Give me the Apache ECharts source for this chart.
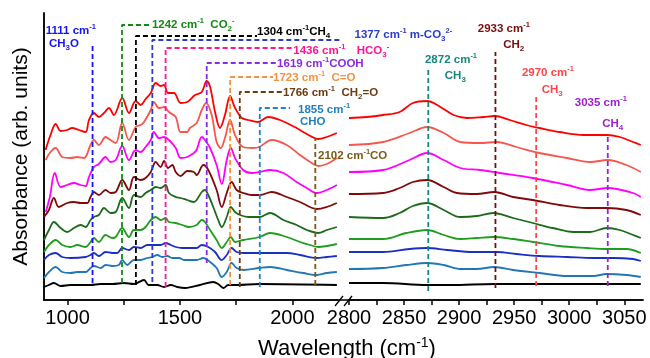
<!DOCTYPE html>
<html><head><meta charset="utf-8">
<script src="https://cdn.jsdelivr.net/npm/echarts@6/dist/echarts.min.js"></script>
<style>html,body{margin:0;padding:0;background:#fff}#c{width:650px;height:358px}</style>
</head><body><div id="c"></div>
<script>
// ---------- axis ranges / ticks ----------
const xMinL = 895, xMaxL = 2203, xMinR = 2800, xMaxR = 3067;
const yMin = 0, yMax = 2.87;
const tickLabelsL = [1000, 1500, 2000];
const tickMarksL = [1000, 1250, 1500, 1750, 2000];
const tickLabelsR = [2800, 2850, 2900, 2950, 3000, 3050];
const tickMarksR = [2800, 2825, 2850, 2875, 2900, 2925, 2950, 2975, 3000, 3025, 3050];

// ---------- spectra: [wavenumber, absorbance] ----------
const redLeft = [[902,1.50],[924,1.65],[947,1.76],[969,1.69],[998,1.70],[1020,1.72],[1050,1.70],[1080,1.68],[1095,1.80],[1117,1.87],[1139,1.83],[1162,1.87],[1184,1.92],[1206,1.85],[1243,2.02],[1273,1.87],[1303,1.99],[1325,1.95],[1347,2.01],[1370,2.07],[1392,2.17],[1414,2.14],[1429,2.15],[1447,2.07],[1473,2.07],[1503,1.97],[1532,1.98],[1567,2.05],[1597,2.08],[1619,2.19],[1634,2.13],[1656,1.88],[1678,1.72],[1700,1.85],[1723,2.04],[1745,1.92],[1775,1.82],[1804,1.80],[1847,1.78],[1892,1.83],[1945,1.80],[2019,1.72],[2064,1.66],[2116,1.61],[2153,1.63],[2198,1.67]];
const salmonLeft = [[902,1.40],[924,1.48],[947,1.52],[976,1.43],[1013,1.42],[1043,1.43],[1073,1.42],[1102,1.55],[1117,1.60],[1139,1.55],[1169,1.63],[1191,1.60],[1214,1.57],[1243,1.77],[1273,1.60],[1303,1.73],[1325,1.75],[1340,1.78],[1370,1.90],[1384,1.98],[1406,1.92],[1429,1.93],[1451,1.88],[1481,1.83],[1503,1.68],[1532,1.68],[1544,1.72],[1574,1.77],[1597,1.90],[1616,1.97],[1641,1.85],[1663,1.58],[1681,1.52],[1700,1.62],[1723,1.80],[1745,1.65],[1781,1.53],[1825,1.52],[1853,1.53],[1908,1.60],[1975,1.55],[2034,1.45],[2079,1.38],[2116,1.34],[2153,1.36],[2198,1.42]];
const magentaLeft = [[903,0.88],[921,1.03],[943,1.27],[969,1.13],[998,1.15],[1028,1.17],[1058,1.15],[1080,1.14],[1095,1.23],[1117,1.33],[1139,1.36],[1169,1.43],[1191,1.38],[1214,1.40],[1243,1.54],[1273,1.40],[1303,1.50],[1325,1.48],[1347,1.53],[1370,1.60],[1384,1.68],[1406,1.62],[1429,1.63],[1451,1.60],[1481,1.52],[1503,1.42],[1532,1.43],[1562,1.47],[1574,1.50],[1597,1.63],[1611,1.60],[1634,1.52],[1663,1.35],[1686,1.16],[1708,1.40],[1726,1.52],[1745,1.42],[1781,1.30],[1819,1.27],[1853,1.28],[1901,1.30],[1960,1.27],[2019,1.18],[2064,1.12],[2109,1.07],[2153,1.10],[2198,1.15]];
const darkRedLeft = [[895,0.83],[917,0.90],[939,1.02],[961,0.93],[998,0.97],[1028,0.98],[1058,0.97],[1087,0.97],[1102,1.03],[1117,1.08],[1139,1.05],[1169,1.10],[1191,1.07],[1214,1.08],[1243,1.20],[1273,1.10],[1295,1.23],[1325,1.20],[1347,1.22],[1370,1.28],[1392,1.38],[1414,1.33],[1429,1.39],[1447,1.32],[1466,1.35],[1481,1.28],[1503,1.24],[1532,1.29],[1562,1.28],[1574,1.25],[1604,1.35],[1626,1.30],[1663,1.10],[1686,0.93],[1708,1.07],[1730,1.18],[1752,1.10],[1782,1.07],[1819,1.05],[1856,1.05],[1908,1.08],[1975,1.03],[2034,0.98],[2109,0.91],[2153,0.93],[2198,0.97]];
const darkGreenLeft = [[895,0.60],[917,0.70],[939,0.78],[969,0.72],[998,0.68],[1028,0.72],[1058,0.75],[1080,0.73],[1102,0.80],[1117,0.83],[1139,0.85],[1162,0.92],[1191,0.87],[1214,0.88],[1243,1.02],[1273,0.92],[1295,1.05],[1325,1.03],[1347,1.07],[1370,1.10],[1392,1.13],[1414,1.12],[1436,1.15],[1451,1.07],[1481,1.03],[1503,1.02],[1532,1.00],[1562,0.98],[1574,1.00],[1597,1.08],[1611,1.10],[1626,1.05],[1648,0.93],[1670,0.80],[1686,0.73],[1708,0.83],[1726,0.93],[1745,0.88],[1767,0.85],[1804,0.83],[1853,0.83],[1901,0.87],[1960,0.80],[2019,0.75],[2064,0.70],[2116,0.67],[2153,0.70],[2198,0.73]];
const greenLeft = [[895,0.48],[917,0.55],[947,0.60],[976,0.55],[1013,0.53],[1043,0.55],[1080,0.53],[1102,0.58],[1117,0.62],[1139,0.58],[1169,0.65],[1199,0.62],[1214,0.63],[1243,0.72],[1273,0.63],[1295,0.70],[1325,0.70],[1347,0.73],[1370,0.80],[1392,0.83],[1414,0.80],[1436,0.82],[1451,0.78],[1481,0.77],[1510,0.75],[1540,0.73],[1574,0.75],[1597,0.80],[1611,0.78],[1634,0.70],[1663,0.60],[1686,0.52],[1708,0.58],[1726,0.63],[1745,0.58],[1782,0.60],[1853,0.63],[1901,0.67],[1975,0.63],[2034,0.58],[2079,0.55],[2116,0.53],[2153,0.54],[2198,0.56]];
const blueLeft = [[895,0.40],[917,0.45],[947,0.47],[976,0.43],[1013,0.42],[1080,0.43],[1102,0.45],[1117,0.47],[1139,0.44],[1169,0.48],[1199,0.47],[1221,0.47],[1243,0.52],[1273,0.50],[1295,0.53],[1325,0.52],[1354,0.55],[1384,0.55],[1414,0.55],[1436,0.57],[1459,0.55],[1481,0.53],[1510,0.52],[1540,0.52],[1574,0.52],[1597,0.55],[1626,0.53],[1656,0.48],[1686,0.40],[1708,0.45],[1730,0.52],[1752,0.48],[1782,0.47],[1853,0.47],[1901,0.47],[1975,0.47],[2034,0.45],[2109,0.42],[2153,0.43],[2198,0.44]];
const steelLeft = [[895,0.22],[917,0.28],[947,0.33],[976,0.28],[1013,0.27],[1043,0.28],[1080,0.28],[1102,0.32],[1117,0.34],[1147,0.32],[1169,0.35],[1199,0.34],[1228,0.35],[1243,0.40],[1265,0.35],[1295,0.40],[1325,0.40],[1354,0.42],[1377,0.43],[1399,0.45],[1421,0.43],[1443,0.44],[1466,0.42],[1496,0.42],[1518,0.40],[1548,0.40],[1574,0.40],[1604,0.42],[1634,0.38],[1663,0.32],[1686,0.23],[1708,0.28],[1730,0.37],[1752,0.32],[1782,0.30],[1853,0.32],[1901,0.33],[1975,0.30],[2049,0.27],[2109,0.25],[2153,0.27],[2198,0.28]];
const blackLeft = [[895,0.13],[917,0.15],[939,0.17],[969,0.14],[1013,0.15],[1058,0.15],[1102,0.15],[1147,0.16],[1200,0.16],[1251,0.17],[1295,0.16],[1340,0.20],[1360,0.15],[1399,0.15],[1429,0.13],[1459,0.15],[1488,0.13],[1523,0.12],[1589,0.15],[1648,0.18],[1670,0.16],[1693,0.12],[1715,0.15],[1752,0.15],[1853,0.16],[2198,0.15]];

const redRight = [[2800,1.82],[2816,1.83],[2831,1.85],[2846,1.88],[2858,1.97],[2871,1.99],[2883,1.93],[2895,1.85],[2907,1.82],[2922,1.83],[2932,1.84],[2946,1.80],[2961,1.75],[2973,1.72],[2991,1.68],[3013,1.65],[3034,1.65],[3046,1.63],[3058,1.58],[3065,1.55]];
const salmonRight = [[2800,1.55],[2831,1.58],[2855,1.67],[2871,1.73],[2886,1.67],[2901,1.58],[2919,1.57],[2934,1.58],[2952,1.53],[2973,1.47],[2998,1.42],[3019,1.38],[3035,1.40],[3052,1.35],[3065,1.28]];
const magentaRight = [[2800,1.28],[2831,1.30],[2855,1.40],[2871,1.47],[2886,1.40],[2901,1.32],[2919,1.30],[2937,1.27],[2967,1.22],[2998,1.15],[3019,1.10],[3035,1.12],[3058,1.07],[3065,1.03]];
const darkRedRight = [[2800,1.06],[2831,1.07],[2846,1.12],[2858,1.18],[2871,1.20],[2886,1.13],[2898,1.07],[2916,1.06],[2932,1.08],[2949,1.03],[2967,1.00],[2991,0.95],[3016,0.92],[3034,0.92],[3052,0.90],[3065,0.85]];
const darkGreenRight = [[2800,0.83],[2831,0.82],[2846,0.87],[2858,0.94],[2871,0.97],[2886,0.90],[2901,0.83],[2916,0.84],[2931,0.87],[2949,0.82],[2967,0.77],[2985,0.72],[3004,0.68],[3019,0.68],[3034,0.72],[3046,0.70],[3058,0.65],[3065,0.62]];
const greenRight = [[2800,0.61],[2831,0.61],[2852,0.67],[2871,0.70],[2886,0.65],[2901,0.61],[2916,0.62],[2931,0.63],[2949,0.61],[2967,0.58],[2991,0.54],[3016,0.52],[3034,0.51],[3052,0.51],[3065,0.47]];
const blueRight = [[2800,0.48],[2831,0.48],[2855,0.51],[2871,0.52],[2889,0.50],[2913,0.48],[2934,0.48],[2952,0.46],[2973,0.44],[2998,0.43],[3022,0.42],[3040,0.42],[3058,0.41],[3065,0.39]];
const steelRight = [[2800,0.31],[2831,0.32],[2852,0.35],[2871,0.37],[2886,0.35],[2901,0.31],[2916,0.31],[2932,0.33],[2949,0.30],[2973,0.27],[2998,0.24],[3022,0.24],[3034,0.26],[3052,0.25],[3065,0.23]];
const blackRight = [[2800,0.17],[2831,0.17],[2871,0.15],[2892,0.15],[2932,0.16],[2967,0.16],[3028,0.16],[3065,0.16]];

// ---------- band markers ----------
const bandWnL = [1111, 1242, 1304, 1377, 1436, 1619, 1723, 1766, 1855, 2102];
const bandLowL = [0.17, 0.17, 0.15, 0.18, 0.13, 0.37, 0.15, 0.13, 0.13, 0.15];
const bandTopL = [2.57, 2.75, 2.64, 2.60, 2.52, 2.37, 2.23, 2.08, 1.92, 1.62];
const bandArmL = [null, 1375, 1843, 2288, 2004, 1932, 1914, 1958, 1990, null];
const bandWnR = [2872, 2933, 2970, 3035];
const bandLowR = [0.09, 0.12, 0.14, 0.14];
const bandTopR = [2.30, 2.48, 2.05, 1.65];

// ---------- labels: [panel, wavenumber, absorbance, text] ----------
const bandLabels = [
  [0, 903, 2.69, '{t|1111 cm}{u|-1}'],
  [0, 917, 2.56, '{t|CH}{d|3}{t|O}'],
  [0, 1375, 2.75, '{t|1242 cm}{u|-1}{t|  CO}{d|2}{u|-}'],
  [0, 1843, 2.68, '{t|1304 cm}{u|-1}{t|CH}{d|4}'],
  [1, 2805, 2.65, '{t|1377 cm}{u|-1}{t| m-CO}{d|3}{u|2-}'],
  [0, 2004, 2.49, '{t|1436 cm}{u|-1}'],
  [1, 2807, 2.49, '{t|HCO}{d|3}{u|-}'],
  [0, 1932, 2.36, '{t|1619 cm}{u|-1}{t|COOH}'],
  [0, 1914, 2.22, '{t|1723 cm}{u|-1}{t|  C=O}'],
  [0, 1958, 2.07, '{t|1766 cm}{u|-1}{t|  CH}{d|2}{t|=O}'],
  [0, 2025, 1.90, '{t|1855 cm}{u|-1}'],
  [0, 2034, 1.78, '{t|CHO}'],
  [0, 2114, 1.44, '{t|2102 cm}{u|-1}{t|CO}'],
  [1, 2869, 2.40, '{t|2872 cm}{u|-1}'],
  [1, 2887, 2.24, '{t|CH}{d|3}'],
  [1, 2917, 2.71, '{t|2933 cm}{u|-1}'],
  [1, 2940, 2.55, '{t|CH}{d|2}'],
  [1, 2957, 2.27, '{t|2970 cm}{u|-1}'],
  [1, 2975, 2.10, '{t|CH}{d|3}'],
  [1, 3005, 1.97, '{t|3035 cm}{u|-1}'],
  [1, 3030, 1.76, '{t|CH}{d|4}']
];

// ---------- styles ----------
const FONT = '"Liberation Sans", Arial, Helvetica, sans-serif';
const spectra = [
  [blackLeft, blackRight, '#000000'],
  [steelLeft, steelRight, '#1f77b4'],
  [blueLeft, blueRight, '#1a2fc4'],
  [greenLeft, greenRight, '#1e9e1e'],
  [darkGreenLeft, darkGreenRight, '#1b6b1b'],
  [darkRedLeft, darkRedRight, '#800a0a'],
  [magentaLeft, magentaRight, '#ff00ff'],
  [salmonLeft, salmonRight, '#f5574f'],
  [redLeft, redRight, '#ff0000']
];
const bandColorsL = ['#1414f5', '#138a13', '#000000', '#2a3ccc', '#ff1493', '#8a2be2', '#f5923e', '#6e3b0f', '#1f80c4', '#7b5a18'];
const bandColorsR = ['#17877e', '#7b0c0c', '#ff4545', '#a020d0'];
const labelColors = ['#1414f5','#1414f5','#138a13','#000000','#2a3ccc','#ff1493','#ff1493','#8a2be2','#f5923e','#6e3b0f','#1f80c4','#1f80c4','#7b5a18','#17877e','#17877e','#7b0c0c','#7b0c0c','#ff4545','#ff4545','#a020d0','#a020d0'];

const series = [];
spectra.forEach(([l, r, c]) => {
  series.push({type:'line', xAxisIndex:0, yAxisIndex:0, data:l, smooth:0.35, symbol:'none', lineStyle:{color:c, width:1.8}, z:2, silent:true});
  series.push({type:'line', xAxisIndex:1, yAxisIndex:1, data:r, smooth:0.35, symbol:'none', lineStyle:{color:c, width:1.8}, z:2, silent:true});
});
bandWnL.forEach((wn, i) => {
  const pts = [[wn, bandLowL[i]], [wn, bandTopL[i]]];
  if (bandArmL[i] !== null) pts.push([bandArmL[i], bandTopL[i]]);
  series.push({type:'line', xAxisIndex:0, yAxisIndex:0, data:pts, symbol:'none', clip:false, silent:true,
    lineStyle:{color:bandColorsL[i], width:1.8, type:[5,3]}, z:3});
});
bandWnR.forEach((wn, i) => {
  series.push({type:'line', xAxisIndex:1, yAxisIndex:1, data:[[wn, bandLowR[i]], [wn, bandTopR[i]]], symbol:'none', clip:false, silent:true,
    lineStyle:{color:bandColorsR[i], width:1.8, type:[5,3]}, z:3});
});
bandLabels.forEach(([g, wn, a, txt], i) => {
  const c = labelColors[i];
  series.push({type:'scatter', xAxisIndex:g, yAxisIndex:g, data:[[wn, a]], symbolSize:0, silent:true, clip:false, z:5,
    itemStyle:{opacity:1},
    label:{show:true, position:'right', distance:0, formatter:txt, opacity:1,
      rich:{
        t:{fontSize:11.5, fontWeight:'bold', fontFamily:FONT, color:c, lineHeight:16},
        u:{fontSize:7.5, fontWeight:'bold', fontFamily:FONT, color:c, lineHeight:9, verticalAlign:'top'},
        d:{fontSize:8, fontWeight:'bold', fontFamily:FONT, color:c, lineHeight:9, verticalAlign:'bottom'}
      }}});
});

const axisLineStyle = {color:'#000', width:1.5};
const plain = v => String(v);
const option = {
  animation:false,
  backgroundColor:'#fff',
  title:{text:'{a|Wavelength (cm}{b|-1}{a|)}', left:253, top:331,
    textStyle:{fontWeight:'normal', rich:{a:{fontSize:22, fontWeight:'normal', fontFamily:FONT, color:'#000', lineHeight:26}, b:{fontSize:14, fontWeight:'normal', fontFamily:FONT, color:'#000', lineHeight:14, verticalAlign:'top'}}}},
  grid:[
    {left:44, top:13, width:294, height:287},
    {left:349, top:13, width:294, height:287},
    {left:44, top:13, width:599, height:287}
  ],
  xAxis:[
    {type:'value', gridIndex:0, min:xMinL, max:xMaxL, splitLine:{show:false},
      axisLine:{show:true, lineStyle:axisLineStyle},
      axisTick:{show:true, customValues:tickMarksL, length:5, lineStyle:axisLineStyle},
      axisLabel:{customValues:tickLabelsL, formatter:plain, fontSize:20, fontFamily:FONT, color:'#000', margin:8}},
    {type:'value', gridIndex:1, min:xMinR, max:xMaxR, splitLine:{show:false},
      axisLine:{show:true, lineStyle:axisLineStyle},
      axisTick:{show:true, customValues:tickMarksR, length:5, lineStyle:axisLineStyle},
      axisLabel:{customValues:tickLabelsR, formatter:plain, fontSize:20, fontFamily:FONT, color:'#000', margin:8}},
    {type:'value', gridIndex:2, position:'top', min:0, max:1, splitLine:{show:false},
      axisLine:{show:true, lineStyle:axisLineStyle}, axisTick:{show:false}, axisLabel:{show:false}}
  ],
  yAxis:[
    {type:'value', gridIndex:0, min:yMin, max:yMax, splitLine:{show:false},
      axisLine:{show:true, lineStyle:axisLineStyle}, axisTick:{show:false}, axisLabel:{show:false},
      name:'Absorbance (arb. units)', nameLocation:'middle', nameGap:12,
      nameTextStyle:{fontSize:21, fontFamily:FONT, color:'#000'}},
    {type:'value', gridIndex:1, min:yMin, max:yMax, splitLine:{show:false},
      axisLine:{show:false}, axisTick:{show:false}, axisLabel:{show:false}},
    {type:'value', gridIndex:2, position:'right', min:0, max:1, splitLine:{show:false},
      axisLine:{show:true, lineStyle:axisLineStyle}, axisTick:{show:false}, axisLabel:{show:false}}
  ],
  series:series
};
const chart = echarts.init(document.getElementById('c'), null, {renderer:'canvas'});
chart.setOption(option);
// axis break marks at the end of the left panel
const p = chart.convertToPixel({xAxisIndex:0, yAxisIndex:0}, [xMaxL, yMin]);
chart.setOption({graphic:[
  {type:'line', shape:{x1:p[0]-3, y1:p[1]+6, x2:p[0]+5, y2:p[1]-4}, style:{stroke:'#000', lineWidth:1.3}, z:10},
  {type:'line', shape:{x1:p[0]+6, y1:p[1]+6, x2:p[0]+14, y2:p[1]-4}, style:{stroke:'#000', lineWidth:1.3}, z:10}
]});
</script>
</body></html>
